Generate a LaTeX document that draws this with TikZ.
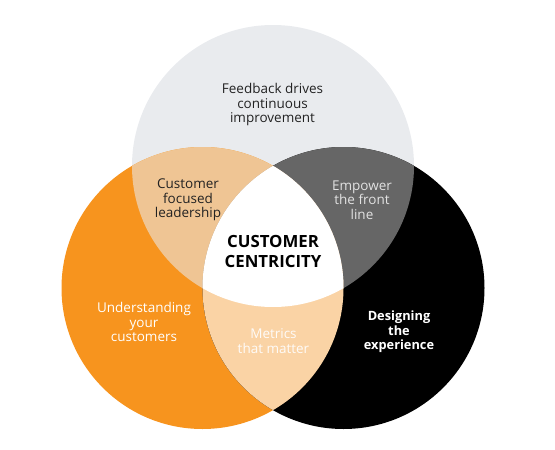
\documentclass[tikz,border=0pt]{standalone}
\usepackage{fontspec}
\setmainfont{Open Sans}
\definecolor{topgray}{HTML}{E9EBEE}
\definecolor{myorange}{HTML}{F7941E}
\definecolor{tan}{HTML}{EFC594}
\definecolor{midgray}{HTML}{666666}
\definecolor{peach}{HTML}{FAD3A5}
\definecolor{darktext}{HTML}{222222}
\definecolor{lighttext}{HTML}{E2E2E2}
\tikzset{
  lbl/.style={align=center, font=\fontsize{13.5}{14.5}\selectfont, inner sep=0pt},
  bigl/.style={align=center, font=\fontsize{16.8}{20}\selectfont\bfseries, inner sep=0pt, text=black},
}
\begin{document}
\begin{tikzpicture}[x=1pt,y=-1pt]
\useasboundingbox (0,0) rectangle (555,450);
\def\R{141}
\coordinate (ct) at (273,166);
\coordinate (cl) at (202.5,288);
\coordinate (cr) at (343.5,288);
% base circles
\fill[topgray] (ct) circle (\R);
\fill[myorange] (cl) circle (\R);
\fill[black] (cr) circle (\R);
% pairwise overlaps
\begin{scope}
  \clip (ct) circle (\R);
  \fill[tan] (cl) circle (\R);
\end{scope}
\begin{scope}
  \clip (ct) circle (\R);
  \fill[midgray] (cr) circle (\R);
\end{scope}
\begin{scope}
  \clip (cl) circle (\R);
  \fill[peach] (cr) circle (\R);
\end{scope}
\begin{scope}
  \clip (cl) circle (\R);
  \clip (cr) circle (\R);
  \fill[white] (ct) circle (\R);
\end{scope}
% labels
\node[lbl, text=darktext] (fb) at (272.5,104.5) {Feedback drives\\continuous\\improvement};
\node[lbl, text=darktext] (cfl) at (188,200) {Customer\\focused\\leadership};
\node[lbl, text=lighttext] (emp) at (362,200) {Empower\\the front\\line};
\node[bigl] (cc) at (273,251) {CUSTOMER\\CENTRICITY};
\node[lbl, text=white] (und) at (144,322) {Understanding\\your\\customers};
\node[lbl, text=white!92!peach] (met) at (273.5,341) {Metrics\\that matter};
\node[lbl, text=white, font=\fontsize{12.8}{14.5}\selectfont\bfseries] (des) at (399,332) {Designing\\the\\experience};
\end{tikzpicture}
\end{document}
